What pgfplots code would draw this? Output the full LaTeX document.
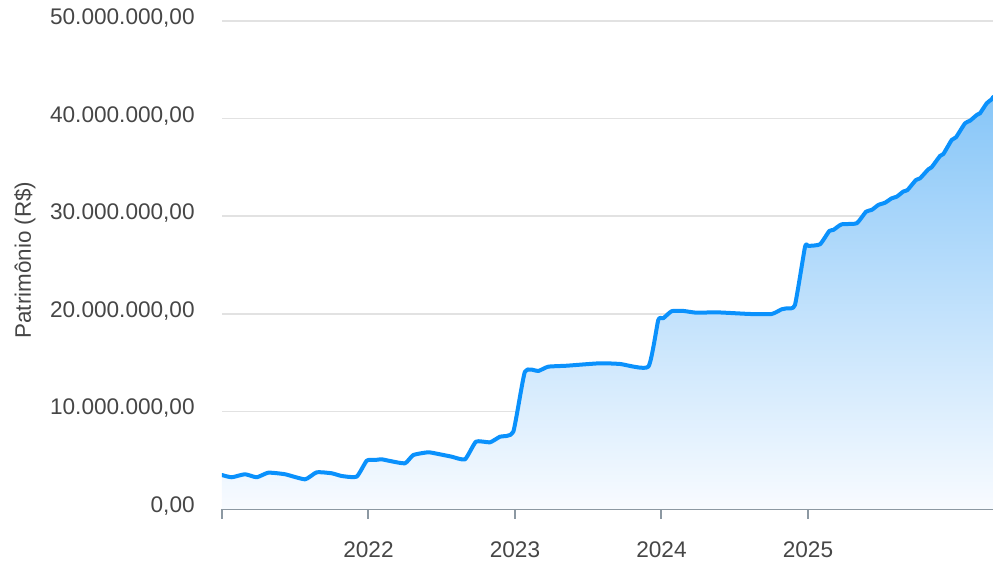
\documentclass[border=0pt]{standalone}
\usepackage{pgfplots}
\pgfplotsset{compat=1.18}
\usepackage{pgfplotstable}
\usepackage{fontspec}
\setmainfont{Liberation Sans}

\definecolor{linecol}{RGB}{10,145,252}
\definecolor{filltop}{RGB}{135,198,248}
\definecolor{fillbot}{RGB}{248,251,255}
\definecolor{gridcol}{RGB}{226,226,226}
\definecolor{axiscol}{RGB}{140,152,162}
\definecolor{txtcol}{RGB}{70,70,70}

% patrimonio em milhoes de R$
\pgfplotstableread{
x y
2021.000 3.48
2021.066 3.25
2021.157 3.56
2021.237 3.25
2021.316 3.72
2021.430 3.56
2021.567 3.04
2021.646 3.76
2021.749 3.66
2021.817 3.38
2021.919 3.31
2021.988 4.95
2022.044 5.02
2022.090 5.09
2022.147 4.92
2022.249 4.68
2022.306 5.53
2022.408 5.81
2022.488 5.60
2022.568 5.36
2022.659 5.09
2022.734 6.90
2022.829 6.83
2022.898 7.41
2022.988 7.90
2023.068 14.07
2023.159 14.14
2023.227 14.58
2023.353 14.68
2023.580 14.93
2023.717 14.86
2023.910 14.58
2023.978 19.36
2024.012 19.54
2024.070 20.27
2024.149 20.29
2024.240 20.11
2024.377 20.15
2024.604 19.98
2024.752 19.98
2024.820 20.46
2024.855 20.56
2024.911 20.90
2024.980 26.88
2025.002 26.95
2025.082 27.12
2025.145 28.48
2025.173 28.59
2025.230 29.17
2025.332 29.27
2025.396 30.46
2025.435 30.64
2025.480 31.15
2025.526 31.38
2025.571 31.83
2025.606 32.00
2025.651 32.53
2025.679 32.68
2025.737 33.71
2025.765 33.88
2025.821 34.80
2025.844 35.01
2025.901 36.17
2025.924 36.37
2025.981 37.81
2026.010 38.08
2026.072 39.52
2026.106 39.78
2026.152 40.37
2026.174 40.54
2026.220 41.57
2026.254 41.98
2026.263 42.20
}\patrimonio

\begin{document}
\begin{tikzpicture}
\begin{axis}[
    scale only axis,
    width=385.5pt, height=244pt,
    xmin=2021, xmax=2026.263,
    ymin=0, ymax=50,
    axis lines*=left,
    y axis line style={draw=none},
    x axis line style={draw=axiscol, line width=1pt},
    xtick={2021,2022,2023,2024,2025},
    xticklabels={,2022,2023,2024,2025},
    ytick={0,10,20,30,40,50},
    yticklabels={{0,00},{10.000.000,00},{20.000.000,00},{30.000.000,00},{40.000.000,00},{50.000.000,00}},
    tick align=outside,
    major tick length=5pt,
    xtick style={draw=axiscol, line width=1pt},
    ytick style={draw=none},
    ymajorgrids,
    grid style={draw=gridcol, line width=0.75pt},
    tick label style={font=\fontsize{11.3}{13}\selectfont, text=txtcol},
    y tick label style={inner sep=0pt, anchor=east, xshift=-8.5pt, yshift=1.5pt},
    x tick label style={inner sep=0pt, anchor=north, yshift=-11pt},
    ylabel={Patrimônio (R\$)},
    ylabel style={font=\fontsize{11.2}{13}\selectfont, text=txtcol,
        at={(axis description cs:-0.2555,0.51)}, anchor=center},
    clip=true,
]
\addplot[draw=none, top color=filltop, bottom color=fillbot,
    smooth, tension=0.3] table[x=x, y=y] {\patrimonio} \closedcycle;
\addplot[draw=linecol, line width=2pt, line join=round, line cap=round,
    smooth, tension=0.3] table[x=x, y=y] {\patrimonio};
\end{axis}
\pgfresetboundingbox
\path ([shift={(-111pt,-27.5pt)}]current axis.south west) rectangle ([shift={(0pt,10.5pt)}]current axis.north east);
\end{tikzpicture}
\end{document}
